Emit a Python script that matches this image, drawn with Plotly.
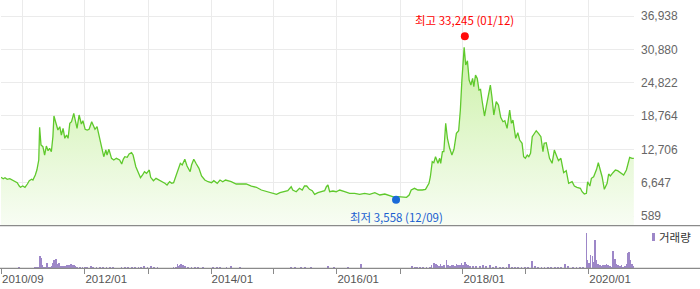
import plotly.graph_objects as go

# ---------------- data ----------------
price_dates = [
    "2010-09-01","2010-09-14","2010-09-24","2010-10-07","2010-10-22","2010-11-07","2010-11-20","2010-12-04",
    "2010-12-16","2010-12-23","2011-01-05","2011-01-18","2011-02-01","2011-02-12","2011-02-26","2011-03-05",
    "2011-03-19","2011-03-28","2011-04-08","2011-04-13","2011-04-21","2011-05-02","2011-05-12","2011-05-22",
    "2011-06-01","2011-06-10","2011-06-20","2011-06-29","2011-07-05","2011-07-15","2011-07-28","2011-08-08",
    "2011-08-17","2011-08-27","2011-09-06","2011-09-16","2011-09-25","2011-10-05","2011-10-15","2011-10-28",
    "2011-11-09","2011-11-16","2011-11-28","2011-12-11","2011-12-20","2012-01-02","2012-01-14","2012-01-25",
    "2012-02-09","2012-02-18","2012-02-28","2012-03-11","2012-03-22","2012-04-06","2012-04-19","2012-05-01",
    "2012-05-08","2012-05-19","2012-06-03","2012-06-16","2012-07-01","2012-07-20","2012-08-01","2012-08-10",
    "2012-08-19","2012-09-02","2012-09-13","2012-09-27","2012-10-06","2012-10-22","2012-11-05","2012-11-18",
    "2012-11-30","2012-12-11","2012-12-23","2013-01-08","2013-01-16","2013-02-01","2013-02-16","2013-02-28",
    "2013-03-19","2013-04-08","2013-04-21","2013-05-06","2013-05-18","2013-05-29","2013-06-10","2013-06-23",
    "2013-07-07","2013-07-18","2013-08-02","2013-08-15","2013-09-02","2013-09-10","2013-09-23","2013-10-08",
    "2013-10-23","2013-11-07","2013-11-26","2013-12-15","2014-01-04","2014-01-17","2014-02-06","2014-02-22",
    "2014-03-10","2014-03-26","2014-04-15","2014-04-28","2014-05-27","2014-06-25","2014-07-24","2014-08-23",
    "2014-09-21","2014-10-20","2014-11-19","2014-12-17","2015-01-16","2015-02-05","2015-03-03","2015-03-22",
    "2015-04-11","2015-04-20","2015-05-10","2015-05-29","2015-06-14","2015-06-27","2015-07-10","2015-07-26",
    "2015-08-11","2015-08-25","2015-09-13","2015-10-03","2015-10-22","2015-11-01","2015-11-10","2015-11-20",
    "2015-12-09","2015-12-28","2016-01-17","2016-02-15","2016-03-15","2016-04-13","2016-05-12","2016-06-10",
    "2016-07-09","2016-08-08","2016-09-06","2016-10-05","2016-11-03","2016-12-02","2016-12-21","2017-01-19",
    "2017-02-08","2017-02-23","2017-03-07","2017-03-26","2017-04-15","2017-05-10","2017-05-29","2017-06-18",
    "2017-06-26","2017-07-07","2017-07-16","2017-07-26","2017-08-09","2017-08-19","2017-08-25","2017-09-04",
    "2017-09-12","2017-09-23","2017-10-03","2017-10-16","2017-10-29","2017-11-10","2017-11-24","2017-12-07",
    "2017-12-17","2017-12-26","2018-01-08","2018-01-17","2018-01-27","2018-02-06","2018-02-16","2018-02-26",
    "2018-03-05","2018-03-15","2018-03-25","2018-04-04","2018-04-13","2018-04-23","2018-05-06","2018-05-16",
    "2018-05-29","2018-06-09","2018-06-18","2018-06-29","2018-07-13","2018-07-26","2018-08-08","2018-08-21",
    "2018-09-01","2018-09-14","2018-09-29","2018-10-09","2018-10-18","2018-10-28","2018-11-03","2018-11-15",
    "2018-11-26","2018-12-10","2018-12-19","2018-12-29","2019-01-09","2019-01-18","2019-01-28","2019-02-07",
    "2019-02-20","2019-03-02","2019-03-15","2019-03-29","2019-04-10","2019-04-17","2019-04-29","2019-05-06",
    "2019-05-18","2019-06-02","2019-06-15","2019-06-26","2019-07-09","2019-07-23","2019-08-08","2019-08-23",
    "2019-09-06","2019-09-26","2019-10-09","2019-10-24","2019-11-13","2019-11-23","2019-12-06","2019-12-18",
    "2019-12-25","2020-01-07","2020-01-16","2020-01-29","2020-02-15","2020-02-25","2020-03-04","2020-03-18",
    "2020-03-31","2020-04-16","2020-04-25","2020-05-05","2020-05-20","2020-06-03","2020-06-16","2020-07-02",
    "2020-07-21","2020-08-06","2020-08-25","2020-09-08","2020-09-18",
]
price_values = [
    7620,7366,7548,7257,7366,7130,6949,6640,
    6040,5804,6040,5804,6403,7003,7257,7130,
    8039,8947,10764,16706,13490,13181,11673,13308,
    12454,12890,12272,14998,18759,17433,16215,16815,
    15307,16524,14707,15307,14707,17433,17723,19250,
    17723,16524,18941,17305,17905,16342,16215,16342,
    17723,17124,16342,16815,15307,13181,11364,12581,
    11673,12708,11073,10764,11073,10764,10037,10891,
    11364,11255,11854,12091,11673,9547,8348,7548,
    8039,8638,8348,8947,7621,7003,7439,7257,
    6821,6531,6222,6821,6531,6640,7730,8947,
    10165,9856,10891,9674,8638,9856,10891,10037,
    9256,7857,7130,6821,6640,7003,6531,7130,
    6821,7130,7003,6821,6403,6403,6403,6040,
    5804,5313,5004,4714,4532,4823,5004,5186,
    5913,5313,5004,5622,5313,6040,6040,5440,
    5186,4532,4823,5004,5186,5913,6222,5004,
    5132,5004,5313,5004,4714,4714,4532,4714,
    4532,4823,4405,4586,4223,3987,4096,4096,
    3987,4405,5313,5622,5313,5313,5440,6531,
    7730,10455,10274,11364,10165,11073,10165,12272,
    12272,17433,14707,12890,11673,12708,15616,16088,
    19849,25300,31242,28026,28807,25300,24392,25609,
    24083,26209,25609,23483,23610,21357,18759,20449,
    22575,24392,22266,18941,21357,20758,18523,17723,
    17905,16524,19849,17433,18032,15616,14707,15725,
    14398,13799,11364,11073,11673,11364,11982,14998,
    15616,16088,15616,14998,12272,13799,13908,12581,
    11073,10165,12581,11673,10637,11073,8457,8820,
    6531,6821,6040,5804,5622,5004,4586,4714,
    6821,6040,7439,7730,9074,10274,9256,7730,
    5440,6531,8220,7857,8457,8947,8820,8457,
    8039,8947,11255,11073,11073,
]

volume_dates = [
    "2010-12-16","2011-03-15","2011-03-25","2011-04-04","2011-04-14","2011-04-23","2011-04-29","2011-05-07",
    "2011-05-14","2011-05-22","2011-05-26","2011-06-03","2011-06-11","2011-06-21","2011-06-30","2011-07-05",
    "2011-07-15","2011-07-22","2011-08-02","2011-08-12","2011-08-19","2011-08-27","2011-09-06","2011-09-20",
    "2011-10-01","2011-10-11","2011-10-21","2011-10-28","2011-11-05","2011-11-17","2011-12-02","2011-12-18",
    "2012-01-02","2012-01-14","2012-02-03","2012-02-18","2012-03-08","2012-03-27","2012-04-16","2012-05-05",
    "2012-05-24","2012-06-13","2012-07-31","2012-08-20","2012-09-08","2012-09-28","2012-10-17","2012-11-06",
    "2012-11-21","2012-12-10","2012-12-29","2013-01-17","2013-02-05","2013-02-24","2013-05-29","2013-06-12",
    "2013-06-20","2013-06-28","2013-07-05","2013-07-13","2013-07-21","2013-07-28","2013-08-06","2013-08-19",
    "2013-09-10","2013-09-29","2013-10-18","2013-11-17","2014-01-14","2014-02-03","2014-02-22","2014-04-01",
    "2014-04-29","2014-06-17","2015-04-12","2015-05-01","2015-06-09","2015-06-28","2015-08-06","2015-11-11",
    "2015-12-15","2016-03-06","2016-05-18","2017-03-11","2017-03-27","2017-04-08","2017-04-25","2017-05-14",
    "2017-06-03","2017-06-22","2017-07-02","2017-07-15","2017-07-27","2017-08-04","2017-08-14","2017-08-24",
    "2017-09-03","2017-09-12","2017-09-28","2017-10-07","2017-10-17","2017-10-27","2017-11-05","2017-11-15",
    "2017-11-25","2017-12-04","2017-12-14","2017-12-24","2018-01-03","2018-01-12","2018-01-22","2018-02-01",
    "2018-02-11","2018-02-28","2018-03-19","2018-04-08","2018-04-27","2018-05-16","2018-06-09","2018-06-24",
    "2018-07-13","2018-08-02","2018-08-21","2018-09-10","2018-09-25","2018-10-11","2018-10-28","2018-11-17",
    "2018-12-06","2018-12-25","2019-01-14","2019-02-07","2019-02-22","2019-03-11","2019-04-01","2019-04-19",
    "2019-05-08","2019-05-28","2019-06-17","2019-07-06","2019-07-25","2019-08-14","2019-09-03","2019-10-01",
    "2019-10-21","2019-11-09","2019-11-28","2019-12-18","2019-12-24","2020-01-03","2020-01-11","2020-01-22",
    "2020-01-30","2020-02-06","2020-02-15","2020-02-24","2020-03-04","2020-03-14","2020-03-23","2020-04-02",
    "2020-04-12","2020-04-21","2020-05-01","2020-05-11","2020-05-20","2020-05-30","2020-06-09","2020-06-19",
    "2020-06-28","2020-07-08","2020-07-17","2020-07-27","2020-08-06","2020-08-16","2020-08-21","2020-08-29",
    "2020-09-08","2020-09-18",
]
volume_values = [
    100000,100000,100000,150000,1230000,1100000,330000,200000,
    200000,200000,570000,200000,200000,230000,570000,830000,
    930000,500000,570000,300000,250000,250000,230000,330000,
    330000,430000,400000,330000,230000,170000,170000,130000,
    170000,130000,230000,130000,130000,130000,130000,130000,
    100000,100000,130000,130000,130000,130000,130000,100000,
    130000,270000,130000,230000,100000,100000,100000,100000,
    500000,270000,400000,430000,330000,230000,270000,130000,
    130000,130000,100000,100000,100000,100000,100000,100000,
    230000,100000,100000,100000,100000,100000,100000,230000,
    130000,100000,430000,230000,130000,130000,130000,170000,
    170000,200000,400000,570000,430000,330000,230000,500000,
    230000,330000,830000,330000,230000,400000,330000,230000,
    500000,330000,400000,570000,330000,700000,500000,330000,
    230000,230000,270000,230000,330000,230000,400000,200000,
    230000,170000,170000,170000,430000,170000,170000,170000,
    170000,170000,130000,730000,230000,170000,170000,170000,
    170000,170000,170000,170000,200000,430000,270000,170000,
    170000,170000,170000,3600000,830000,570000,1330000,1230000,
    670000,2830000,830000,430000,400000,230000,400000,400000,
    500000,330000,230000,170000,1730000,1000000,500000,330000,
    230000,400000,170000,230000,500000,1570000,1630000,830000,
    430000,230000,
]

y_ticks = [589, 6647, 12706, 18764, 24822, 30880, 36938]
grid_dates = ["2010-09-04", "2011-01-01", "2012-01-01", "2013-01-01", "2014-01-01", "2015-01-01",
              "2016-01-01", "2017-01-01", "2018-01-01", "2019-01-01", "2020-01-01"]
x_tick_dates = ["2010-09-04", "2012-01-01", "2013-01-01", "2014-01-01", "2015-01-01",
                "2016-01-01", "2017-01-01", "2018-01-01", "2019-01-01", "2020-01-01"]
x_tick_labels = ["2010/09", "2012/01", "", "2014/01", "", "2016/01", "", "2018/01", "", "2020/01"]

high_date, high_value, high_label = "2018-01-12", 33245, "01/12"
low_date, low_value, low_label = "2016-12-09", 3558, "12/09"

x_range = ["2010-09-01", "2020-09-19"]
price_range = [-1174, 39845]
volume_range = [0, 4260000]

# ---------------- layout geometry ----------------
W, H = 700, 289
ML, MR = 1, 66
PW = W - ML - MR


def px_x(p):
    return (p - ML) / PW


def px_y(p):
    return (H - p) / H


sep_y = 225.7
bot_y = 268.3

line_green = "#5fc92c"
vol_purple = "#9d87c8"

fig = go.Figure()

# baseline for the filled area (bottom of the price pane)
fig.add_trace(go.Scatter(
    x=[price_dates[0], price_dates[-1]], y=[price_range[0], price_range[0]],
    mode="lines", line=dict(width=0, color="rgba(0,0,0,0)"),
    hoverinfo="skip", showlegend=False, xaxis="x", yaxis="y"))

fig.add_trace(go.Scatter(
    x=price_dates, y=price_values, mode="lines",
    line=dict(color=line_green, width=1.3),
    fill="tonexty",
    fillgradient=dict(type="vertical",
                      colorscale=[[0, "rgba(248,253,244,1)"], [1, "rgba(204,241,168,1)"]],
                      start=price_range[0], stop=31000),
    showlegend=False, xaxis="x", yaxis="y"))

fig.add_trace(go.Scatter(
    x=[high_date], y=[high_value], mode="markers",
    marker=dict(color="#ff0a0a", size=8), showlegend=False, xaxis="x", yaxis="y"))
fig.add_trace(go.Scatter(
    x=[low_date], y=[low_value], mode="markers",
    marker=dict(color="#1a6ad8", size=8), showlegend=False, xaxis="x", yaxis="y"))

fig.add_trace(go.Bar(
    x=volume_dates, y=volume_values, marker=dict(color=vol_purple, line=dict(width=0)),
    width=4.5 * 86400000, showlegend=False, xaxis="x2", yaxis="y2"))

font_kr = "Noto Sans CJK KR"
font_num = "Liberation Sans"

fig.update_layout(
    width=W, height=H,
    margin=dict(l=ML, r=MR, t=0, b=0),
    paper_bgcolor="white", plot_bgcolor="white",
    bargap=0,
    xaxis=dict(type="date", range=x_range, domain=[0, 1], anchor="y",
               tickvals=grid_dates, showticklabels=False, ticks="",
               showgrid=True, gridcolor="#ebebeb", gridwidth=1, zeroline=False, showline=False),
    yaxis=dict(range=price_range, domain=[px_y(sep_y), 1], side="right", anchor="x",
               tickvals=y_ticks, ticktext=[f"{v:,}" for v in y_ticks],
               showgrid=True, gridcolor="#ebebeb", gridwidth=1, zeroline=False, ticks="",
               ticklabelstandoff=6,
               tickfont=dict(family=font_num, size=12, color="#666666")),
    xaxis2=dict(type="date", range=x_range, domain=[0, 1], anchor="y2", matches="x",
                tickvals=x_tick_dates, ticktext=x_tick_labels,
                ticks="outside", ticklen=5, tickcolor="#8a8a8a", tickwidth=1,
                ticklabelposition="outside right",
                showgrid=False, zeroline=False, showline=False,
                tickfont=dict(family=font_num, size=11.5, color="#555555")),
    yaxis2=dict(range=volume_range, domain=[px_y(bot_y), px_y(sep_y)], anchor="x2",
                showticklabels=False, showgrid=False, zeroline=False, ticks=""),
    shapes=[
        dict(type="line", xref="paper", yref="paper", x0=px_x(0), x1=px_x(W),
             y0=px_y(sep_y), y1=px_y(sep_y), line=dict(color="#8a8a8a", width=1.2)),
        dict(type="line", xref="paper", yref="paper", x0=px_x(0), x1=px_x(W),
             y0=px_y(bot_y), y1=px_y(bot_y), line=dict(color="#8a8a8a", width=1.2)),
        dict(type="rect", xref="paper", yref="paper", x0=px_x(652), x1=px_x(655),
             y0=px_y(241), y1=px_y(233), fillcolor=vol_purple, line=dict(width=0)),
    ],
    annotations=[
        dict(x=high_date, y=high_value, xref="x", yref="y",
             text=f"최고 {high_value:,} ({high_label})", showarrow=False,
             yanchor="bottom", yshift=6, font=dict(family=font_kr, size=11.5, color="#ff0000")),
        dict(x=low_date, y=low_value, xref="x", yref="y",
             text=f"최저 {low_value:,} ({low_label})", showarrow=False,
             yanchor="top", yshift=-7, font=dict(family=font_kr, size=11.5, color="#1a5fd0")),
        dict(x=px_x(657), y=px_y(237), xref="paper", yref="paper", text="거래량",
             showarrow=False, xanchor="left", yanchor="middle",
             font=dict(family=font_kr, size=11.5, color="#333333")),
    ],
)

fig.write_html("out.html")
